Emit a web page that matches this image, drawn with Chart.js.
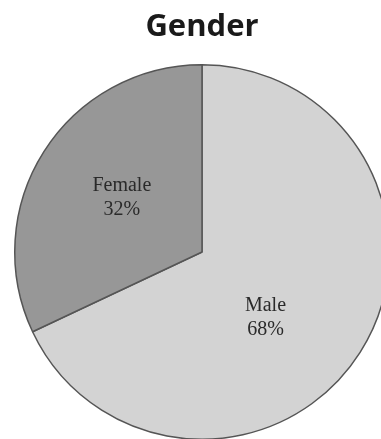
<!DOCTYPE html>
<html>
<head>
<meta charset="utf-8">
<script src="https://cdn.jsdelivr.net/npm/chart.js@4/dist/chart.umd.min.js"></script>
<style>
  html, body { margin: 0; padding: 0; background: #ffffff; overflow: hidden; width: 381px; height: 439px; }
  #wrap { position: absolute; left: 0; top: 0; width: 404px; height: 440px; }
</style>
</head>
<body>
<div id="wrap"><canvas id="c" width="404" height="440"></canvas></div>
<script>
const titleText = "Gender";
const categories = ["Male", "Female"];
const values = [68, 32];
const sliceColors = ["#d3d3d3", "#979797"];

const sliceLabels = {
  id: "sliceLabels",
  afterDatasetsDraw(chart, args, opts) {
    const ctx = chart.ctx;
    const meta = chart.getDatasetMeta(0);
    const total = values.reduce((a, b) => a + b, 0);
    ctx.save();
    ctx.font = opts.font;
    ctx.fillStyle = opts.color;
    ctx.textAlign = "center";
    ctx.textBaseline = "middle";
    meta.data.forEach((arc, i) => {
      const p = arc.getProps(["x", "y", "startAngle", "endAngle", "outerRadius"], true);
      const ang = (p.startAngle + p.endAngle) / 2 + opts.angleShift[i] * Math.PI / 180;
      const r = p.outerRadius * opts.radiusFrac[i];
      const cx = p.x + Math.cos(ang) * r;
      const cy = p.y + Math.sin(ang) * r;
      const pct = Math.round(values[i] / total * 100) + "%";
      ctx.fillText(categories[i], cx, cy - opts.lineGap / 2);
      ctx.fillText(pct, cx, cy + opts.lineGap / 2);
    });
    ctx.restore();
  }
};

new Chart(document.getElementById("c"), {
  type: "pie",
  data: {
    labels: categories,
    datasets: [{
      data: values,
      backgroundColor: sliceColors,
      borderColor: "#555555",
      borderWidth: 1.5,
      borderAlign: "center"
    }]
  },
  options: {
    responsive: false,
    animation: false,
    events: [],
    layout: { padding: 0 },
    plugins: {
      legend: { display: false },
      tooltip: { enabled: false },
      title: {
        display: true,
        text: titleText,
        color: "#1a1a1a",
        font: { family: "'Open Sans'", weight: "bold", size: 31, lineHeight: 1.2 },
        padding: { top: 9, bottom: 17.8 }
      },
      sliceLabels: {
        font: "20px 'Liberation Serif'",
        color: "#2a2a2a",
        lineGap: 24,
        angleShift: [13.5, 1.9],
        radiusFrac: [0.487, 0.518]
      }
    }
  },
  plugins: [sliceLabels]
});
</script>
</body>
</html>
